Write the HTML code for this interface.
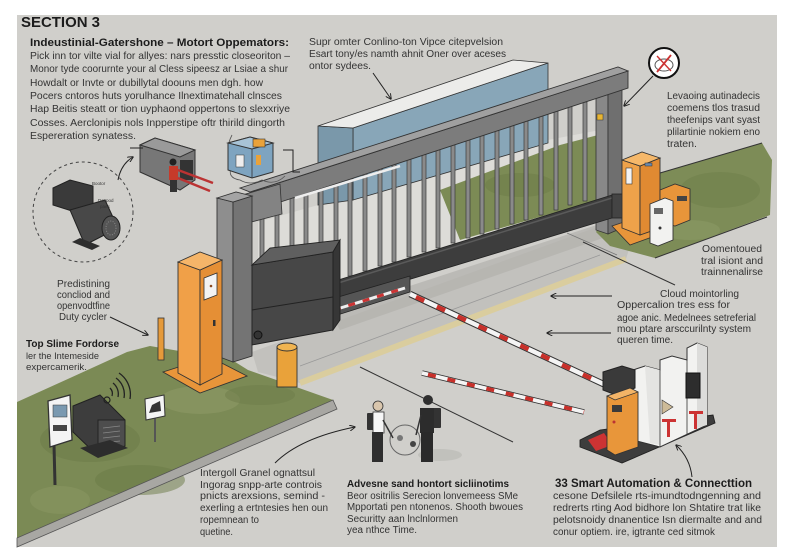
<!DOCTYPE html>
<html><head><meta charset="utf-8"><style>
html,body{margin:0;padding:0;background:#fff;}
svg{display:block;}
text{font-family:"Liberation Sans",Arial,sans-serif;fill:#333;font-size:10.5px;}
.b{font-weight:bold;fill:#1c1c1c;}
</style></head><body>
<svg width="800" height="560" viewBox="0 0 800 560" xmlns="http://www.w3.org/2000/svg">
<defs>
<marker id="ah" viewBox="0 0 10 10" refX="9" refY="5" markerWidth="6" markerHeight="6" orient="auto"><path d="M0,0 L10,5 L0,10" fill="none" stroke="#222" stroke-width="1.6"/></marker>
</defs>
<rect width="800" height="560" fill="#fff"/>
<rect x="17" y="15" width="760" height="532" fill="#d0cfcb"/>

<!-- road bands -->
<polygon points="252,352 600,226 632,240 626,259 300,383 258,372" fill="#c2c1bd"/>
<polygon points="330,312 612,220 620,232 340,330" fill="#b2b1ad" opacity="0.7"/>
<line x1="300" y1="383" x2="626" y2="259" stroke="#dacd9e" stroke-width="6"/>
<line x1="300" y1="366" x2="600" y2="255" stroke="#999" stroke-width="0.8"/>
<line x1="360" y1="367" x2="513" y2="442" stroke="#333" stroke-width="1"/>
<line x1="583" y1="242" x2="675" y2="285" stroke="#333" stroke-width="1"/>
<line x1="567" y1="233" x2="617" y2="255" stroke="#777" stroke-width="0.8"/>

<!-- left grass -->
<polygon points="17,402 70,378 127,352 150,346 232,360 248,370 333,400 17,538" fill="#7b8a55"/>
<ellipse cx="90" cy="440" rx="50" ry="22" fill="#6b7a47" opacity="0.5"/>
<ellipse cx="200" cy="400" rx="40" ry="14" fill="#8d9a66" opacity="0.6"/>
<ellipse cx="140" cy="480" rx="45" ry="15" fill="#6a7946" opacity="0.5"/>
<ellipse cx="260" cy="395" rx="35" ry="10" fill="#6d7c49" opacity="0.5"/>
<ellipse cx="60" cy="500" rx="30" ry="14" fill="#8b9864" opacity="0.5"/>
<polygon points="333,400 337,409 17,547 17,538" fill="#a8a7a3" stroke="#555" stroke-width="0.8"/>

<!-- right grass -->
<polygon points="596,232 615,205 660,173 762,143 772,160 770,215 655,258 610,246" fill="#7d8c57"/>
<ellipse cx="720" cy="190" rx="40" ry="18" fill="#6e7d4a" opacity="0.5"/>
<ellipse cx="690" cy="230" rx="30" ry="10" fill="#8e9b68" opacity="0.5"/>
<line x1="660" y1="173" x2="762" y2="143" stroke="#333" stroke-width="1"/>
<line x1="655" y1="258" x2="767" y2="217" stroke="#333" stroke-width="1"/>

<!-- behind gate -->
<polygon points="258,222 548,140 600,130 600,205 335,285 258,295" fill="#dddcd8"/>
<polygon points="440,190 560,145 598,135 598,200 460,240" fill="#7c8b55"/>
<ellipse cx="520" cy="185" rx="35" ry="12" fill="#6c7b48" opacity="0.5"/>
<!-- blue box -->
<polygon points="353,128 548,63 548,143 353,200" fill="#88a6b8" stroke="#333" stroke-width="0.8"/>
<polygon points="318,126 353,128 353,200 318,205" fill="#7a98aa" stroke="#333" stroke-width="0.8"/>
<polygon points="318,126 513,60 548,63 353,128" fill="#ececea" stroke="#333" stroke-width="0.8"/>

<!-- bars -->
<g fill="#8a8a8a" stroke="#3a3a3a" stroke-width="0.7">
<rect x="260" y="205" width="4" height="60"/>
<rect x="275" y="200" width="4" height="60"/>
<rect x="290" y="196" width="4" height="60"/>
<rect x="304" y="191" width="4" height="60"/>
<rect x="319" y="186" width="4" height="60"/>
<rect x="334" y="182" width="4" height="99"/>
<rect x="348" y="177" width="4" height="99"/>
<rect x="363" y="172" width="4" height="99"/>
<rect x="378" y="167" width="4" height="99"/>
<rect x="392" y="163" width="4" height="99"/>
<rect x="407" y="158" width="4" height="99"/>
<rect x="422" y="153" width="4" height="99"/>
<rect x="436" y="149" width="4" height="99"/>
<rect x="451" y="144" width="4" height="99"/>
<rect x="466" y="139" width="4" height="99"/>
<rect x="480" y="135" width="4" height="99"/>
<rect x="495" y="130" width="4" height="99"/>
<rect x="510" y="125" width="4" height="99"/>
<rect x="524" y="121" width="4" height="99"/>
<rect x="539" y="116" width="4" height="99"/>
<rect x="554" y="111" width="4" height="99"/>
<rect x="568" y="106" width="4" height="99"/>
<rect x="583" y="102" width="4" height="99"/>
</g>

<!-- right post -->
<polygon points="596,78 608,82 608,234 596,230" fill="#888" stroke="#333" stroke-width="0.8"/>
<polygon points="608,82 622,76 622,228 608,234" fill="#6f6f6f" stroke="#333" stroke-width="0.8"/>
<rect x="597" y="114" width="6" height="6" fill="#e8b532" stroke="#333" stroke-width="0.5"/>

<!-- dark beam -->
<polygon points="335,281 612,195 612,218 335,302" fill="#3d3d3d" stroke="#222" stroke-width="0.8"/>
<line x1="335" y1="284" x2="612" y2="198" stroke="#5a5a5a" stroke-width="1.5"/>
<rect x="612" y="194" width="12" height="24" fill="#444" stroke="#222" stroke-width="0.8"/>
<polygon points="328,300 410,276 410,292 328,318" fill="#555" stroke="#222" stroke-width="0.8"/>
<line x1="334" y1="310" x2="405" y2="288" stroke="#eee" stroke-width="3"/>
<line x1="334" y1="310" x2="405" y2="288" stroke="#c33" stroke-width="3" stroke-dasharray="7 8"/>

<!-- top beam -->
<polygon points="250,192 628,71 628,88 250,212" fill="#7c7c7c" stroke="#333" stroke-width="0.9"/>
<polygon points="240,188 618,67 628,71 250,192" fill="#a0a0a0" stroke="#333" stroke-width="0.9"/>
<line x1="295" y1="198" x2="400" y2="166" stroke="#eee" stroke-width="2.5"/>
<polygon points="232,198 280,184 282,214 236,226" fill="#838383" stroke="#333" stroke-width="0.8"/>

<!-- left post -->
<polygon points="217,198 233,202 233,362 217,356" fill="#8e8e8e" stroke="#333" stroke-width="0.9"/>
<polygon points="233,202 252,196 252,356 233,362" fill="#747474" stroke="#333" stroke-width="0.9"/>
<polygon points="217,198 236,192 252,196 233,202" fill="#a4a4a4" stroke="#333" stroke-width="0.9"/>

<!-- motor box -->
<polygon points="252,265 333,252 333,330 252,345" fill="#474747" stroke="#222" stroke-width="0.9"/>
<polygon points="252,265 270,248 340,240 333,252" fill="#5f5f5f" stroke="#222" stroke-width="0.9"/>
<polygon points="333,252 340,240 340,320 333,330" fill="#363636" stroke="#222" stroke-width="0.9"/>
<line x1="252" y1="310" x2="333" y2="297" stroke="#222" stroke-width="1"/>
<circle cx="258" cy="335" r="4" fill="#333" stroke="#111"/>

<!-- bollards -->
<rect x="158" y="318" width="6" height="42" fill="#e59a3a" stroke="#333" stroke-width="0.8"/>
<rect x="277" y="347" width="20" height="40" fill="#e9a23a" stroke="#333" stroke-width="0.9"/>
<ellipse cx="287" cy="347" rx="10" ry="4" fill="#f0b450" stroke="#333" stroke-width="0.9"/>

<!-- left orange pillar -->
<polygon points="163,372 210,357 247,376 200,393" fill="#e8953a" stroke="#333" stroke-width="0.9"/>
<polygon points="178,262 200,270 200,385 178,373" fill="#f0a048" stroke="#333" stroke-width="0.9"/>
<polygon points="200,270 222,260 222,374 200,385" fill="#e58f35" stroke="#333" stroke-width="0.9"/>
<polygon points="178,262 200,252 222,260 200,270" fill="#f5b569" stroke="#333" stroke-width="0.9"/>
<polygon points="204,278 217,273 217,295 204,300" fill="#f3f3f3" stroke="#333" stroke-width="0.8"/>
<circle cx="211" cy="286" r="1.3" fill="#8a4a20"/>
<rect x="213" y="320" width="2.5" height="6" fill="#333"/>

<!-- right orange boxes -->
<polygon points="612,226 648,214 666,232 630,245" fill="#e8953a" stroke="#333" stroke-width="0.8"/>
<polygon points="622,160 640,166 640,235 622,228" fill="#eea24a" stroke="#333" stroke-width="0.9"/>
<polygon points="640,166 660,158 660,228 640,235" fill="#e08a32" stroke="#333" stroke-width="0.9"/>
<polygon points="622,160 642,152 660,158 640,166" fill="#f5b86a" stroke="#333" stroke-width="0.9"/>
<rect x="626" y="168" width="6" height="16" fill="#f4f4f4" stroke="#333" stroke-width="0.6"/>
<rect x="645" y="163" width="7" height="3" fill="#6a8bb0" stroke="#333" stroke-width="0.5"/>
<polygon points="660,190 675,184 690,189 690,220 675,226 660,222" fill="#e8953a" stroke="#333" stroke-width="0.9"/>
<rect x="677" y="196" width="10" height="5" fill="#444"/>
<polygon points="650,204 665,198 673,201 673,240 658,246 650,243" fill="#f2f2f0" stroke="#333" stroke-width="0.9"/>
<rect x="654" y="208" width="9" height="6" fill="#666"/>
<circle cx="660" cy="228" r="1.5" fill="#333"/>

<!-- barrier arms -->
<line x1="410" y1="294" x2="612" y2="388" stroke="#333" stroke-width="6.5"/>
<line x1="410" y1="294" x2="612" y2="388" stroke="#f4f4f4" stroke-width="4.5"/>
<line x1="416" y1="297" x2="612" y2="388" stroke="#c8302a" stroke-width="4.5" stroke-dasharray="9 14"/>
<line x1="422" y1="373" x2="584" y2="412" stroke="#333" stroke-width="5.5"/>
<line x1="422" y1="373" x2="584" y2="412" stroke="#f4f4f4" stroke-width="3.8"/>
<line x1="428" y1="374.5" x2="584" y2="412" stroke="#c8302a" stroke-width="3.8" stroke-dasharray="8 12"/>

<!-- booth -->
<polygon points="580,440 600,430 713,415 715,423 622,463 580,447" fill="#3d3d3d" stroke="#222" stroke-width="0.9"/>
<polygon points="588,440 604,433 612,445 596,451" fill="#c33"/>
<polygon points="633,370 645,366 660,370 660,360 672,356 687,360 687,348 697,343 707,347 707,425 660,447 633,440" fill="#f2f2f0" stroke="#333" stroke-width="1"/>
<polygon points="697,343 707,347 707,425 697,428" fill="#dcdcda"/>
<polygon points="645,366 660,370 660,445 650,443" fill="#e4e4e2"/>
<line x1="660" y1="370" x2="660" y2="447" stroke="#333" stroke-width="0.8"/>
<line x1="687" y1="360" x2="687" y2="435" stroke="#333" stroke-width="0.8"/>
<rect x="686" y="373" width="14" height="25" fill="#2d2d2d" stroke="#111"/>
<polygon points="662,400 673,407 662,414" fill="#cdbb98" stroke="#333" stroke-width="0.6"/>
<rect x="662" y="419" width="14" height="3" fill="#c33"/><rect x="667" y="422" width="3" height="15" fill="#c33"/>
<rect x="689" y="411" width="14" height="3" fill="#c33"/><rect x="694" y="414" width="3" height="15" fill="#c33"/>
<polygon points="603,372 622,366 635,370 635,388 616,395 603,390" fill="#3a3a3a" stroke="#222"/>
<polygon points="607,396 630,388 638,392 638,447 615,455 607,450" fill="#e8963a" stroke="#333" stroke-width="0.9"/>
<polygon points="607,396 630,388 638,392 615,400" fill="#f3b467" stroke="#333" stroke-width="0.7"/>
<rect x="612" y="405" width="10" height="7" fill="#3a3a3a"/>
<circle cx="614" cy="422" r="1.5" fill="#b33"/>

<!-- people -->
<ellipse cx="440" cy="455" rx="22" ry="6" fill="#b8b7b3" opacity="0.6"/>
<circle cx="405" cy="440" r="15" fill="none" stroke="#666" stroke-width="1"/>
<circle cx="400" cy="438" r="3" fill="#777"/><circle cx="413" cy="444" r="3" fill="#444"/>
<rect x="367" y="413" width="8" height="17" fill="#333" rx="1"/>
<rect x="373" y="412" width="11" height="21" fill="#f6f6f6" stroke="#333" stroke-width="0.8"/>
<rect x="372" y="432" width="11" height="30" fill="#2e2e2e"/>
<line x1="383" y1="420" x2="393" y2="438" stroke="#333" stroke-width="1.5"/>
<circle cx="378" cy="406" r="5" fill="#d9c6ad" stroke="#333" stroke-width="0.8"/>
<rect x="432" y="408" width="9" height="20" fill="#333" rx="1"/>
<rect x="420" y="408" width="14" height="25" fill="#2c2c2c"/>
<rect x="421" y="432" width="12" height="30" fill="#2a2a2a"/>
<line x1="421" y1="415" x2="416" y2="435" stroke="#333" stroke-width="1.5"/>
<circle cx="428" cy="400" r="5" fill="#2f2f2f"/>

<!-- left devices -->
<line x1="54" y1="445" x2="55" y2="485" stroke="#333" stroke-width="3"/>
<polygon points="48,401 70,395 72,440 50,447" fill="#f4f4f4" stroke="#333" stroke-width="1.3"/>
<rect x="53" y="405" width="14" height="12" fill="#7a99b0" stroke="#333" stroke-width="0.5"/>
<rect x="53" y="425" width="14" height="6" fill="#444"/>
<polygon points="73,406 100,395 125,420 125,446 98,456 73,432" fill="#3d3d3d" stroke="#222"/>
<polygon points="98,420 125,420 125,446 98,456" fill="#4d4d4d" stroke="#222"/>
<g stroke="#888" stroke-width="0.8"><line x1="103" y1="428" x2="120" y2="426"/><line x1="103" y1="433" x2="120" y2="431"/><line x1="103" y1="438" x2="120" y2="436"/><line x1="103" y1="443" x2="120" y2="441"/></g>
<polygon points="80,448 98,458 128,448 110,440" fill="#2d2d2d"/>
<circle cx="107" cy="400" r="3" fill="none" stroke="#222" stroke-width="1.2"/>
<path d="M112,396 A8,8 0 0 0 110,388" fill="none" stroke="#222" stroke-width="1.3"/>
<path d="M118,397 A14,14 0 0 0 113,383" fill="none" stroke="#222" stroke-width="1.3"/>
<path d="M124,398 A20,20 0 0 0 116,378" fill="none" stroke="#222" stroke-width="1.3"/>
<path d="M130,399 A26,26 0 0 0 119,373" fill="none" stroke="#222" stroke-width="1.3"/>
<line x1="155" y1="418" x2="155" y2="442" stroke="#555" stroke-width="2"/>
<polygon points="145,399 164,395 165,416 146,420" fill="#f4f4f4" stroke="#333"/>
<path d="M149,413 L152,405 L160,401 L161,411 Z" fill="#333"/>

<!-- motor icon -->
<circle cx="83" cy="212" r="50" fill="none" stroke="#444" stroke-width="1" stroke-dasharray="3 3"/>
<polygon points="53,188 70,180 93,186 93,205 75,212 53,205" fill="#3a3a3a" stroke="#222"/>
<polygon points="70,210 105,200 118,228 85,245" fill="#484848" stroke="#222"/>
<ellipse cx="111" cy="228" rx="9" ry="12" fill="#555" stroke="#222"/>
<ellipse cx="111" cy="228" rx="5" ry="7" fill="none" stroke="#888" stroke-dasharray="1 1.5"/>
<polygon points="72,242 92,250 100,246 80,238" fill="#2e2e2e"/>
<text x="92" y="185" style="font-size:4.5px">Bootor</text>
<text x="98" y="202" style="font-size:4.5px">Dospod</text>
<text x="100" y="208" style="font-size:4.5px">paes</text>
<path d="M118,180 Q121,164 133,157" fill="none" stroke="#222" stroke-width="1" marker-end="url(#ah)"/>

<!-- small box + person -->
<polygon points="140,145 155,138 195,150 195,180 180,190 140,172" fill="#777" stroke="#333"/>
<polygon points="140,145 155,138 195,150 180,157" fill="#9a9a9a" stroke="#333"/>
<rect x="180" y="160" width="13" height="20" fill="#333"/>
<line x1="178" y1="170" x2="213" y2="183" stroke="#b33" stroke-width="2.5"/>
<line x1="178" y1="178" x2="210" y2="191" stroke="#b33" stroke-width="2.5"/>
<rect x="169" y="166" width="9" height="14" fill="#c63a2a"/>
<rect x="170" y="180" width="7" height="12" fill="#333"/>
<circle cx="173" cy="162" r="3.5" fill="#222"/>
<line x1="130" y1="148" x2="143" y2="148" stroke="#222" stroke-width="1"/>
<path d="M232,135 Q224,150 232,165 Q226,178 240,180 Q250,186 262,180 Q275,186 285,176" fill="none" stroke="#555" stroke-width="0.8"/>
<polygon points="228,143 250,137 273,143 273,172 252,178 228,170" fill="#7ea4c0" stroke="#333"/>
<polygon points="228,143 250,137 273,143 252,149" fill="#a8c3d6" stroke="#333"/>
<line x1="252" y1="149" x2="252" y2="178" stroke="#333" stroke-width="0.8"/>
<rect x="236" y="155" width="8" height="12" fill="#eee" stroke="#333" stroke-width="0.5"/>
<rect x="256" y="155" width="5" height="10" fill="#e9a23a"/>
<rect x="253" y="139" width="12" height="8" fill="#e9a23a" stroke="#333" stroke-width="0.6"/>
<path d="M283,150 L293,150 L293,172 L300,172" fill="none" stroke="#222" stroke-width="1"/>

<!-- icon circle -->
<circle cx="664" cy="63" r="15" fill="#fff" stroke="#111" stroke-width="2"/>
<ellipse cx="664" cy="65" rx="9" ry="6" fill="none" stroke="#555" stroke-width="1"/>
<line x1="657" y1="72" x2="671" y2="55" stroke="#c33" stroke-width="1.8"/>
<line x1="657" y1="56" x2="671" y2="71" stroke="#c33" stroke-width="1.4"/>

<!-- arrows -->
<line x1="373" y1="73" x2="391" y2="99" stroke="#222" stroke-width="1" marker-end="url(#ah)"/>
<line x1="653" y1="76" x2="624" y2="106" stroke="#222" stroke-width="1" marker-end="url(#ah)"/>
<line x1="612" y1="296" x2="551" y2="296" stroke="#222" stroke-width="1" marker-end="url(#ah)"/>
<line x1="611" y1="333" x2="547" y2="333" stroke="#222" stroke-width="1" marker-end="url(#ah)"/>
<line x1="110" y1="317" x2="148" y2="335" stroke="#222" stroke-width="1" marker-end="url(#ah)"/>
<path d="M275,463 Q300,438 355,427" fill="none" stroke="#222" stroke-width="1" marker-end="url(#ah)"/>
<path d="M692,477 Q690,458 676,445" fill="none" stroke="#222" stroke-width="1" marker-end="url(#ah)"/>

<!-- TEXT -->
<text x="21" y="27" class="b" style="font-size:15px" textLength="79" lengthAdjust="spacingAndGlyphs">SECTION 3</text>
<text x="30" y="46" class="b" style="font-size:11px" textLength="259" lengthAdjust="spacingAndGlyphs">Indeustinial-Gatershone – Motort Oppemators:</text>
<text x="30" y="59" textLength="260" lengthAdjust="spacingAndGlyphs">Pick inn tor vilte vial for allyes: nars presstic closeoriton –</text>
<text x="30" y="72" textLength="258" lengthAdjust="spacingAndGlyphs">Monor tyde coorurnte your al Cless sipeesz ar Lsiae a shur</text>
<text x="30" y="86" textLength="233" lengthAdjust="spacingAndGlyphs">Howdalt or Invte or dubillytal doouns men dgh. how</text>
<text x="30" y="99" textLength="252" lengthAdjust="spacingAndGlyphs">Pocers cntoros huts yorulhance Ilnextimatehall clnsces</text>
<text x="30" y="112" textLength="260" lengthAdjust="spacingAndGlyphs">Hap Beitis steatt or tion uyphaond oppertons to slexxriye</text>
<text x="30" y="126" textLength="255" lengthAdjust="spacingAndGlyphs">Cosses. Aerclonipis nols Inpperstipe oftr thirild dingorth</text>
<text x="30" y="139" textLength="106" lengthAdjust="spacingAndGlyphs">Espereration synatess.</text>

<text x="309" y="45" style="font-size:10px" textLength="194" lengthAdjust="spacingAndGlyphs">Supr omter Conlino-ton Vipce citepvelsion</text>
<text x="309" y="57" style="font-size:10px" textLength="197" lengthAdjust="spacingAndGlyphs">Esart tony/es namth ahnit Oner over aceses</text>
<text x="309" y="69" style="font-size:10px" textLength="62" lengthAdjust="spacingAndGlyphs">ontor sydees.</text>

<text x="667" y="99" style="font-size:10px" textLength="93" lengthAdjust="spacingAndGlyphs">Levaoing autinadecis</text>
<text x="667" y="111" style="font-size:10px" textLength="93" lengthAdjust="spacingAndGlyphs">coemens tlos trasud</text>
<text x="667" y="123" style="font-size:10px" textLength="93" lengthAdjust="spacingAndGlyphs">theefenips vant syast</text>
<text x="667" y="135" style="font-size:10px" textLength="93" lengthAdjust="spacingAndGlyphs">plilartinie nokiem eno</text>
<text x="667" y="147" style="font-size:10px" textLength="30" lengthAdjust="spacingAndGlyphs">traten.</text>

<text x="702" y="252" style="font-size:10px" textLength="60" lengthAdjust="spacingAndGlyphs">Oomentoued</text>
<text x="701" y="264" style="font-size:10px" textLength="62" lengthAdjust="spacingAndGlyphs">tral isiont and</text>
<text x="701" y="275" style="font-size:10px" textLength="62" lengthAdjust="spacingAndGlyphs">trainnenalirse</text>

<text x="660" y="297" style="font-size:10px" textLength="79" lengthAdjust="spacingAndGlyphs">Cloud mointorling</text>
<text x="617" y="308" style="font-size:10px" textLength="113" lengthAdjust="spacingAndGlyphs">Oppercalion tres ess for</text>
<text x="617" y="321" style="font-size:10px" textLength="139" lengthAdjust="spacingAndGlyphs">agoe anic. Medelnees setreferial</text>
<text x="617" y="332" style="font-size:10px" textLength="134" lengthAdjust="spacingAndGlyphs">mou ptare arsccurilnty system</text>
<text x="617" y="343" style="font-size:10px" textLength="56" lengthAdjust="spacingAndGlyphs">queren time.</text>

<text x="57" y="287" style="font-size:10px" textLength="53" lengthAdjust="spacingAndGlyphs">Predistining</text>
<text x="57" y="298" style="font-size:10px" textLength="53" lengthAdjust="spacingAndGlyphs">concliod and</text>
<text x="57" y="309" style="font-size:10px" textLength="53" lengthAdjust="spacingAndGlyphs">openvodtfine</text>
<text x="59" y="320" style="font-size:10px" textLength="48" lengthAdjust="spacingAndGlyphs">Duty cycler</text>

<text x="26" y="347" class="b" style="font-size:10.5px" textLength="93" lengthAdjust="spacingAndGlyphs">Top Slime Fordorse</text>
<text x="26" y="359" style="font-size:9.5px" textLength="73" lengthAdjust="spacingAndGlyphs">ler the Intemeside</text>
<text x="26" y="370" style="font-size:9.5px" textLength="61" lengthAdjust="spacingAndGlyphs">expercamerik.</text>

<text x="200" y="476" style="font-size:10px" textLength="115" lengthAdjust="spacingAndGlyphs">Intergoll Granel ognattsul</text>
<text x="200" y="488" style="font-size:10px" textLength="122" lengthAdjust="spacingAndGlyphs">Ingorag snpp-arte controis</text>
<text x="200" y="499" style="font-size:10px" textLength="125" lengthAdjust="spacingAndGlyphs">pnicts arexsions, semind -</text>
<text x="200" y="511" style="font-size:10px" textLength="128" lengthAdjust="spacingAndGlyphs">exerling a ertntesies hen oun</text>
<text x="200" y="523" style="font-size:10px" textLength="59" lengthAdjust="spacingAndGlyphs">ropemnean to</text>
<text x="200" y="535" style="font-size:10px" textLength="33" lengthAdjust="spacingAndGlyphs">quetine.</text>

<text x="347" y="487" class="b" style="font-size:10.5px" textLength="162" lengthAdjust="spacingAndGlyphs">Advesne sand hontort sicliinotims</text>
<text x="347" y="499" style="font-size:10px" textLength="171" lengthAdjust="spacingAndGlyphs">Beor ositrilis Serecion lonvemeess SMe</text>
<text x="347" y="510" style="font-size:10px" textLength="176" lengthAdjust="spacingAndGlyphs">Mpportati pen ntonenos. Shooth bwoues</text>
<text x="347" y="522" style="font-size:10px" textLength="111" lengthAdjust="spacingAndGlyphs">Securitty aan lnclnlormen</text>
<text x="347" y="533" style="font-size:10px" textLength="70" lengthAdjust="spacingAndGlyphs">yea nthce Time.</text>

<text x="555" y="487" class="b" style="font-size:11.5px" textLength="197" lengthAdjust="spacingAndGlyphs">33 Smart Automation &amp; Connecttion</text>
<text x="553" y="499" style="font-size:10px" textLength="208" lengthAdjust="spacingAndGlyphs">cesone Defsilele rts-imundtodngenning and</text>
<text x="553" y="511" style="font-size:10px" textLength="208" lengthAdjust="spacingAndGlyphs">redrerts rting Aod bidhore lon Shtatire trat like</text>
<text x="553" y="523" style="font-size:10px" textLength="209" lengthAdjust="spacingAndGlyphs">pelotsnoidy dnanentice Isn diermalte and and</text>
<text x="553" y="535" style="font-size:10px" textLength="162" lengthAdjust="spacingAndGlyphs">conur optiem. ire, igtrante ced sitmok</text>
</svg>
</body></html>
